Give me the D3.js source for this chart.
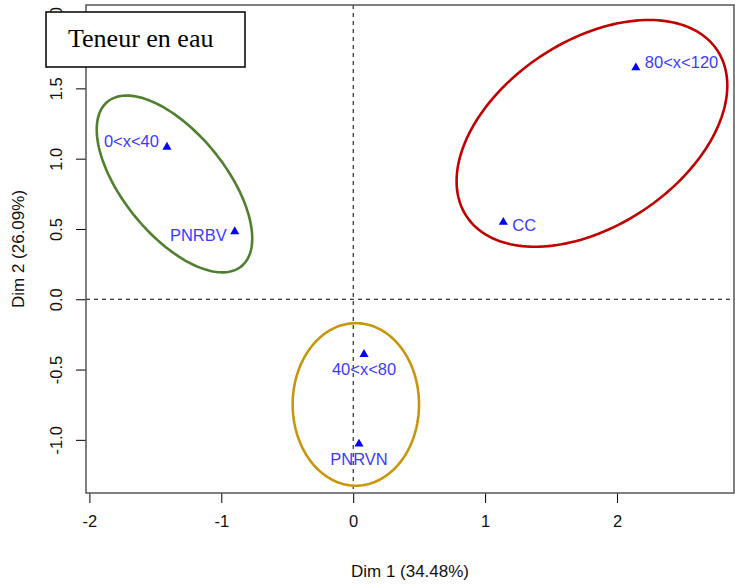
<!DOCTYPE html>
<html>
<head>
<meta charset="utf-8">
<script src="https://cdn.jsdelivr.net/npm/d3@7"></script>
<style>
  body { margin: 0; background: #fff; }
  text { font-family: "Liberation Sans", Arial, sans-serif; }
  text.boxtitle { font-family: "Liberation Serif", "Times New Roman", serif; }
</style>
</head>
<body>
<script>
const W = 735, H = 585;

// row points (CA map)
const labels = ["0<x<40", "PNRBV", "80<x<120", "CC", "40<x<80", "PNRVN"];
const dim1 = [-1.412, -0.898, 2.143, 1.138, 0.082, 0.044];
const dim2 = [1.083, 0.481, 1.647, 0.548, -0.392, -1.029];
const labelPos = ["left", "left", "right", "right", "below", "below"];

// groups drawn as ellipses (data units)
const ellCx = [-1.355, 1.81, 0.020];
const ellCy = [0.820, 1.18, -0.748];
const ellRx = [0.775, 1.12, 0.479];
const ellRy = [0.377, 0.67, 0.578];
const ellAngle = [-48, 30, 0];
const ellColor = ["#4f7f2f", "#c00000", "#c8960c"];

const xTicks = [-2, -1, 0, 1, 2];
const yTicks = [-1.0, -0.5, 0.0, 0.5, 1.0, 1.5, 2.0];
const xTitle = "Dim 1 (34.48%)";
const yTitle = "Dim 2 (26.09%)";
const boxTitle = "Teneur en eau";

const pLeft = 86, pRight = 734, pTop = 5, pBottom = 493;

const x = d3.scaleLinear().domain([-2.0258, 2.887]).range([pLeft, pRight]);
const y = d3.scaleLinear().domain([-1.378, 2.093]).range([pBottom, pTop]);

const svg = d3.select("body").append("svg")
  .attr("width", W)
  .attr("height", H);

// x axis (plain hyphen minus, as in R)
svg.append("g")
  .attr("transform", "translate(0," + pBottom + ")")
  .call(d3.axisBottom(x).tickValues(xTicks).tickSize(10).tickPadding(12)
    .tickFormat(d => String(d)))
  .call(g => g.select(".domain").remove())
  .call(g => g.selectAll("text").attr("font-size", 16.5).attr("fill", "#111"));

// y axis, labels rotated like R (las = 0)
const yAxis = svg.append("g")
  .attr("transform", "translate(" + pLeft + ",0)")
  .call(d3.axisLeft(y).tickValues(yTicks).tickSize(10).tickFormat(d => d.toFixed(1)))
  .call(g => g.select(".domain").remove());
yAxis.selectAll(".tick text")
  .attr("x", null).attr("dy", null)
  .attr("text-anchor", "middle")
  .attr("transform", "translate(-24,0) rotate(-90)")
  .attr("font-size", 16.5).attr("fill", "#111");

// reference lines at 0
svg.append("line")
  .attr("x1", pLeft).attr("x2", pRight)
  .attr("y1", y(0)).attr("y2", y(0))
  .attr("stroke", "#000").attr("stroke-dasharray", "4,4");
svg.append("line")
  .attr("x1", x(0)).attr("x2", x(0))
  .attr("y1", pTop).attr("y2", pBottom)
  .attr("stroke", "#000").attr("stroke-dasharray", "4,4");

// ellipses
const line = d3.line().curve(d3.curveLinearClosed);
function ellipsePath(i) {
  const a = ellAngle[i] * Math.PI / 180;
  const pts = d3.range(0, 360, 2).map(function(deg) {
    const t = deg * Math.PI / 180;
    const u = ellRx[i] * Math.cos(t), v = ellRy[i] * Math.sin(t);
    return [x(ellCx[i] + u * Math.cos(a) - v * Math.sin(a)),
            y(ellCy[i] + u * Math.sin(a) + v * Math.cos(a))];
  });
  return line(pts);
}
svg.append("g")
  .selectAll("path")
  .data(ellCx)
  .enter()
  .append("path")
  .attr("d", (d, i) => ellipsePath(i))
  .attr("fill", "none")
  .attr("stroke", (d, i) => ellColor[i])
  .attr("stroke-width", 2.6);

// points
const pts = labels.map((l, i) => ({ label: l, x: dim1[i], y: dim2[i], pos: labelPos[i] }));
svg.append("g")
  .selectAll("path")
  .data(pts)
  .enter()
  .append("path")
  .attr("d", d3.symbol(d3.symbolTriangle).size(36))
  .attr("transform", d => "translate(" + x(d.x) + "," + y(d.y) + ")")
  .attr("fill", "#0000ff");

// label nudges (px), like autoLab placement
const nudge = { "0<x<40": -6, "PNRBV": 3, "80<x<120": -6, "CC": 3, "40<x<80": 0, "PNRVN": 0 };
svg.append("g")
  .selectAll("text")
  .data(pts)
  .enter()
  .append("text")
  .attr("font-size", 16.5)
  .attr("fill", "#3b3bff")
  .attr("text-anchor", d => d.pos === "left" ? "end" : d.pos === "right" ? "start" : "middle")
  .attr("x", d => x(d.x) + (d.pos === "left" ? -8 : d.pos === "right" ? 9 : 0))
  .attr("y", d => y(d.y) + nudge[d.label] + (d.pos === "below" ? 21 : 6))
  .text(d => d.label);

// plot frame
svg.append("rect")
  .attr("x", pLeft).attr("y", pTop)
  .attr("width", pRight - pLeft).attr("height", pBottom - pTop)
  .attr("fill", "none").attr("stroke", "#555").attr("stroke-width", 1.5);

// axis titles
svg.append("text")
  .attr("x", (pLeft + pRight) / 2).attr("y", 577)
  .attr("text-anchor", "middle")
  .attr("font-size", 17).attr("fill", "#111")
  .text(xTitle);
svg.append("text")
  .attr("transform", "translate(24," + (pTop + pBottom) / 2 + ") rotate(-90)")
  .attr("text-anchor", "middle")
  .attr("font-size", 17).attr("fill", "#111")
  .text(yTitle);

// title box
svg.append("rect")
  .attr("x", 46).attr("y", 12)
  .attr("width", 199).attr("height", 55)
  .attr("fill", "#fff").attr("stroke", "#000").attr("stroke-width", 1.5);
svg.append("text")
  .attr("class", "boxtitle")
  .attr("x", 68).attr("y", 47)
  .attr("font-size", 26).attr("fill", "#000")
  .text(boxTitle);
</script>
</body>
</html>
